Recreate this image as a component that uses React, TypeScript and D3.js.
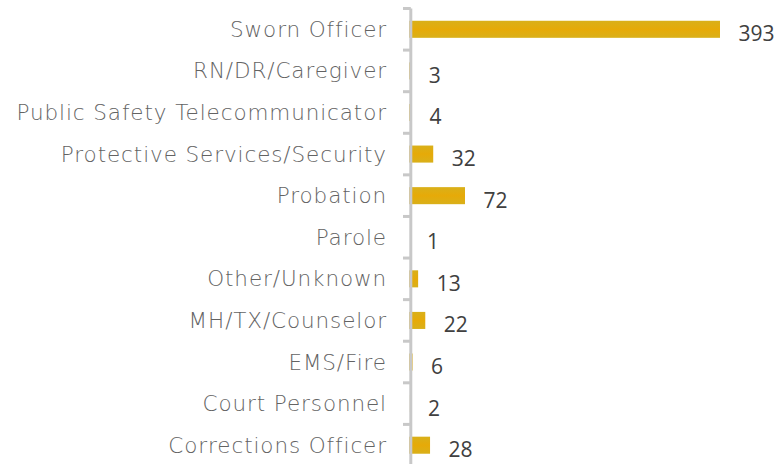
import React from "react";
import * as d3 from "d3";

const categories = [
  "Sworn Officer",
  "RN/DR/Caregiver",
  "Public Safety Telecommunicator",
  "Protective Services/Security",
  "Probation",
  "Parole",
  "Other/Unknown",
  "MH/TX/Counselor",
  "EMS/Fire",
  "Court Personnel",
  "Corrections Officer",
];
const values = [393, 3, 4, 32, 72, 1, 13, 22, 6, 2, 28];

const W = 778;
const H = 464;
const zeroX = 407.8;
const maxX = 720;
const top = 8.5;
const bottom = 466;
const axisX = 410.8;

export default function App() {
  const x = d3.scaleLinear().domain([0, d3.max(values) as number]).range([zeroX, maxX]);
  const y = d3.scaleBand<string>().domain(categories).range([top, bottom]).padding(0);
  const step = y.step();
  const barH = step * 0.41;
  const boundaries = d3.range(categories.length + 1).map((i) => top + i * step);
  const barStart = axisX - 1.5;

  return (
    <svg width={W} height={H} style={{ position: "absolute", left: 0, top: 0, background: "#fff" }}>
      <defs>
        <linearGradient id="barg" x1="0" y1="0" x2="0" y2="1">
          <stop offset="0" stopColor="#D9B01A" />
          <stop offset="0.5" stopColor="#E6AA08" />
          <stop offset="1" stopColor="#D9B01A" />
        </linearGradient>
      </defs>
      {categories.map((c, i) => {
        const yc = (y(c) as number) + step / 2;
        const xe = x(values[i]);
        return (
          <g key={c}>
            <rect x={barStart} y={yc - barH / 2} width={Math.max(0, xe - barStart)} height={barH} fill="url(#barg)" />
            <text
              x={387}
              y={yc + 7.5}
              textAnchor="end"
              fontFamily="'DejaVu Sans', sans-serif"
              fontWeight={300}
              fontSize={21.5}
              letterSpacing={0.9}
              fill="#636363"
            >
              {c}
            </text>
            <text
              x={xe + 18.5}
              y={yc + 12}
              textAnchor="start"
              fontFamily="'Open Sans', sans-serif"
              fontSize={21}
              fill="#404040"
            >
              {values[i]}
            </text>
          </g>
        );
      })}
      <line x1={axisX} x2={axisX} y1={top} y2={bottom} stroke="#C8C8C8" strokeWidth={3} />
      {boundaries.map((b, i) => (
        <line key={i} x1={403} x2={axisX} y1={b} y2={b} stroke="#C8C8C8" strokeWidth={3} />
      ))}
    </svg>
  );
}
